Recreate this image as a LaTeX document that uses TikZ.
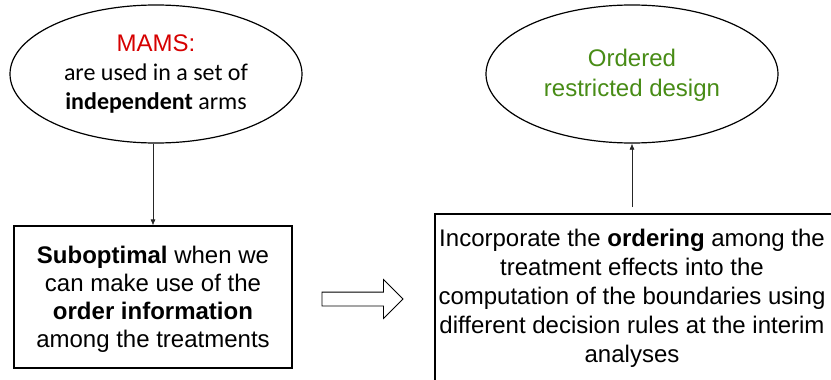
\documentclass[tikz,border=0pt]{standalone}
\usepackage{fontspec}
\setmainfont{Liberation Sans}
\newfontfamily\calibrifont{Carlito}
\usetikzlibrary{shapes.geometric,shapes.arrows,arrows.meta}
\definecolor{mamsred}{RGB}{214,0,0}
\definecolor{ordgreen}{RGB}{72,140,22}
\begin{document}
\begin{tikzpicture}[x=1pt,y=-1pt,
  oval/.style={ellipse,draw,line width=1.2pt,minimum width=292pt,minimum height=138pt,inner sep=0pt},
  box/.style={rectangle,draw,line width=1.2pt,inner sep=0pt},
  txt/.style={align=center,font=\fontsize{24pt}{29pt}\selectfont},
  link/.style={draw=black!85,line width=0.7pt,-{Latex[length=6pt,width=5pt]}}]
\clip (0,0) rectangle (831,380);
\fill[white] (0,0) rectangle (831,380);
% left ellipse
\node[oval] (mams) at (156,74) {};
\node[txt] (mamstxt) at (156,74) {\textcolor{mamsred}{MAMS:}\\
  {\calibrifont are used in a set of}\\
  {\calibrifont\textbf{independent} arms}};
% right ellipse
\node[oval] (ord) at (632,74) {};
\node[txt,text=ordgreen,font=\fontsize{24pt}{30pt}\selectfont] (ordtxt) at (632,75) {Ordered\\restricted design};
% left box
\node[box,minimum width=278pt,minimum height=142pt] (sub) at (153,297) {};
\node[txt,font=\fontsize{24pt}{28pt}\selectfont] (subtxt) at (153,299) {\textbf{Suboptimal} when we\\can make use of the\\\textbf{order information}\\among the treatments};
% right box (runs off the page)
\node[box,minimum width=440pt,minimum height=190pt] (inc) at (655,309) {};
\node[txt] (inctxt) at (632,298) {Incorporate the \textbf{ordering} among the\\treatment effects into the\\computation of the boundaries using\\different decision rules at the interim\\analyses};
% connectors
\draw[link] (mams.south -| sub.north) -- (sub.north);
\coordinate (inctop) at (632,207);
\draw[link] (inctop) -- (ord.south);
% hollow arrow
\node[single arrow,draw,line width=0.8pt,minimum height=81pt,
  single arrow head extend=12.5pt,inner xsep=0pt,inner ysep=6.5pt] (flow) at (359,299) {};
\end{tikzpicture}
\end{document}
